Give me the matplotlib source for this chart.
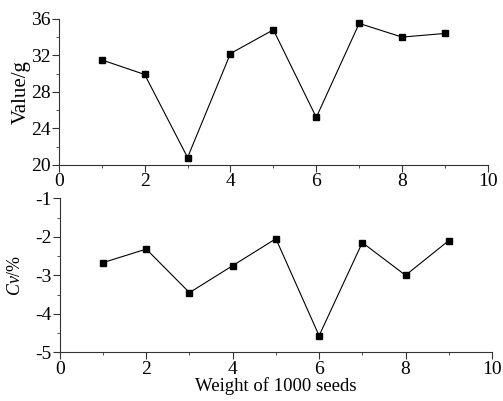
import matplotlib
matplotlib.use("Agg")
import matplotlib.pyplot as plt
from matplotlib.ticker import MultipleLocator

plt.rcParams['font.family'] = 'Liberation Serif'
plt.rcParams['mathtext.fontset'] = 'custom'
plt.rcParams['mathtext.it'] = 'Liberation Serif:italic'
plt.rcParams['mathtext.rm'] = 'Liberation Serif'
plt.rcParams['axes.unicode_minus'] = False

# data
x = [1, 2, 3, 4, 5, 6, 7, 8, 9]
weight = [31.5, 29.9, 20.8, 32.2, 34.8, 25.2, 35.5, 34.0, 34.4]
cv = [-2.67, -2.32, -3.45, -2.75, -2.05, -4.57, -2.15, -3.0, -2.1]

fig = plt.figure(figsize=(5.03, 4.01), dpi=100)
ax1 = fig.add_axes([0.117, 0.589, 0.853, 0.364])
ax2 = fig.add_axes([0.119, 0.1215, 0.859, 0.384])

def style(ax):
    ax.spines['top'].set_visible(False)
    ax.spines['right'].set_visible(False)
    for s in ['left', 'bottom']:
        ax.spines[s].set_color('#333333')
    ax.tick_params(which='both', direction='out', labelsize=14, color='#333333', pad=1)
    ax.tick_params(which='major', length=5)
    ax.tick_params(which='minor', length=2.5)
    ax.set_xlim(0, 10)
    ax.xaxis.set_major_locator(MultipleLocator(2))
    ax.xaxis.set_minor_locator(MultipleLocator(1))

ax1.plot(x, weight, color='black', lw=0.8, marker='s', ms=5)
style(ax1)
ax1.set_ylim(20, 36)
ax1.yaxis.set_major_locator(MultipleLocator(4))
ax1.yaxis.set_minor_locator(MultipleLocator(2))
ax1.set_ylabel('Value/g', fontsize=15, labelpad=0)

ax2.plot(x, cv, color='black', lw=0.8, marker='s', ms=5)
style(ax2)
ax2.set_ylim(-5, -1)
ax2.yaxis.set_major_locator(MultipleLocator(1))
ax2.yaxis.set_minor_locator(MultipleLocator(0.5))
ax2.set_ylabel('$Cv$/%', fontsize=13, labelpad=8)
ax2.set_xlabel('Weight of 1000 seeds', fontsize=13.5, labelpad=0)

fig.savefig('out.png', dpi=100)
